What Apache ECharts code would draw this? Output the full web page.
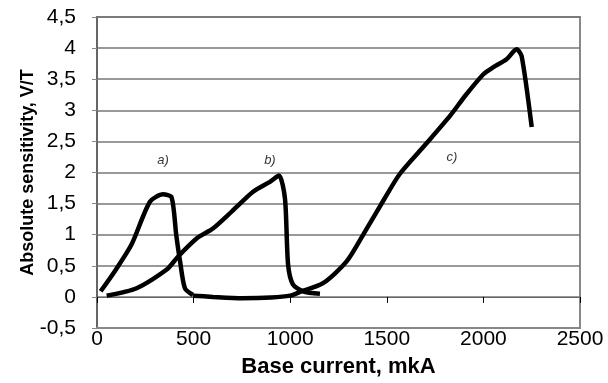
<!DOCTYPE html>
<html><head><meta charset="utf-8">
<script src="https://cdn.jsdelivr.net/npm/echarts@6/dist/echarts.min.js"></script>
<style>html,body{margin:0;padding:0;background:#fff}#c{width:608px;height:383px}</style>
</head><body><div id="c"></div>
<script>
var xTicks = [0, 500, 1000, 1500, 2000, 2500];
var yTicks = [-0.5, 0, 0.5, 1, 1.5, 2, 2.5, 3, 3.5, 4, 4.5];

var curveAx = [19, 100, 180, 274, 342, 386, 410, 430, 455, 497];
var curveAy = [0.09, 0.45, 0.85, 1.53, 1.65, 1.6, 1.0, 0.57, 0.14, 0.03];

var curveBx = [50, 205, 361, 420, 520, 600, 700, 808, 895, 942, 973, 989, 1014, 1066, 1154];
var curveBy = [0.02, 0.14, 0.44, 0.65, 0.95, 1.1, 1.38, 1.69, 1.85, 1.95, 1.58, 0.52, 0.2, 0.09, 0.05];

var curveCx = [497, 600, 750, 900, 1000, 1051, 1170, 1292, 1387, 1490, 1568, 1700, 1827, 1910, 2000, 2050, 2120, 2172, 2198, 2250];
var curveCy = [0.02, 0.0, -0.02, -0.01, 0.02, 0.08, 0.22, 0.57, 1.05, 1.59, 1.98, 2.45, 2.91, 3.25, 3.58, 3.69, 3.82, 3.98, 3.87, 2.73];

var annotText = ['a)', 'b)', 'c)'];
var annotX = [342, 895, 1837];
var annotY = [2.2, 2.2, 2.24];

function pairs(xs, ys) { return xs.map(function (x, i) { return [x, ys[i]]; }); }

var chart = echarts.init(document.getElementById('c'));
var lineStyle = { color: '#000', width: 4.5 };
chart.setOption({
  animation: false,
  textStyle: { fontFamily: 'Liberation Sans, Arial, sans-serif' },
  grid: { left: 97, right: 28, top: 17, bottom: 53, show: true, borderColor: '#888', borderWidth: 2 },
  xAxis: [{
    type: 'value', min: xTicks[0], max: xTicks[xTicks.length - 1], interval: 500,
    axisLine: { onZero: false, lineStyle: { color: '#888', width: 2 } },
    axisTick: { show: false },
    axisLabel: { color: '#000', fontSize: 21, margin: 1, formatter: function (v) { return String(v); } },
    splitLine: { show: false },
    name: 'Base current, mkA', nameLocation: 'middle', nameGap: 28, nameMoveOverlap: false,
    nameTextStyle: { color: '#000', fontSize: 22, fontWeight: 'bold', verticalAlign: 'top' }
  }, {
    type: 'value', min: xTicks[0], max: xTicks[xTicks.length - 1], interval: 500,
    position: 'bottom',
    axisLine: { show: true, onZero: true, lineStyle: { color: '#666', width: 1 } },
    axisTick: { show: true, inside: false, length: 6, lineStyle: { color: '#000', width: 1 } },
    axisLabel: { show: false },
    splitLine: { show: false }
  }],
  yAxis: {
    type: 'value', min: yTicks[0], max: yTicks[yTicks.length - 1], interval: 0.5,
    axisLine: { show: true, lineStyle: { color: '#666', width: 2 } },
    axisTick: { show: true, length: 5, lineStyle: { color: '#888' } },
    axisLabel: { color: '#000', fontSize: 21, margin: 21, formatter: function (v) { return String(v).replace('.', ','); } },
    splitLine: { show: true, lineStyle: { color: '#777', width: 1.5 } },
    name: 'Absolute sensitivity, V/T', nameLocation: 'middle', nameGap: 60, nameMoveOverlap: false,
    nameTextStyle: { color: '#000', fontSize: 18, fontWeight: 'bold' }
  },
  series: [
    { type: 'line', data: pairs(curveAx, curveAy), showSymbol: false, smooth: 0.25, lineStyle: lineStyle },
    { type: 'line', data: pairs(curveBx, curveBy), showSymbol: false, smooth: 0.25, lineStyle: lineStyle },
    { type: 'line', data: pairs(curveCx, curveCy), showSymbol: false, smooth: 0.25, lineStyle: lineStyle },
    { type: 'scatter', symbolSize: 0, data: pairs(annotX, annotY).map(function (p, i) { return { value: p, name: annotText[i] }; }),
      label: { show: true, position: 'inside', formatter: '{b}', color: '#000', fontSize: 13, fontStyle: 'italic' } }
  ]
});
</script></body></html>
